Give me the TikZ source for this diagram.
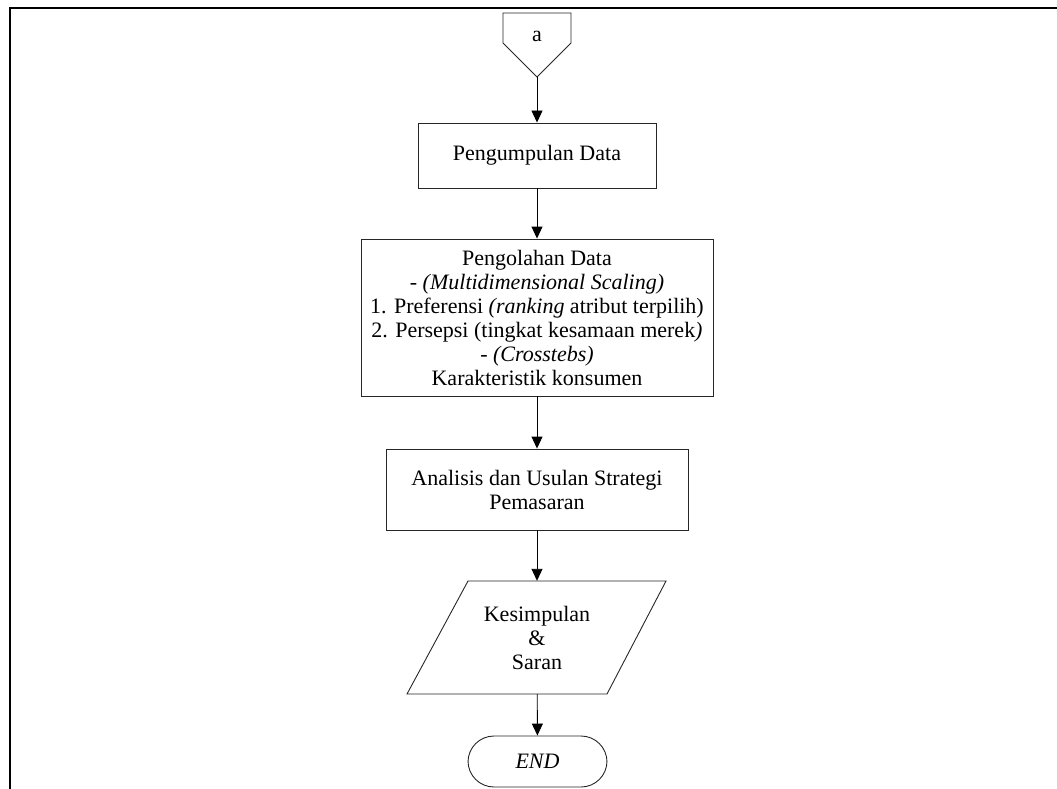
\documentclass[tikz,border=0pt]{standalone}
\usepackage{fontspec}
\setmainfont{Liberation Serif}
\usetikzlibrary{arrows.meta,calc}
\begin{document}
\begin{tikzpicture}[x=1pt,y=-1pt,
  every node/.style={font=\fontsize{22}{24}\selectfont, inner sep=0pt, align=center},
  procbox/.style={draw=black!85, line width=0.9pt, rectangle},
  conn/.style={line width=0.9pt, -{Triangle[length=12pt,width=11pt]}},
  frameline/.style={line width=2pt}]
\useasboundingbox (0,0) rectangle (1057,789);
% frame
\draw[frameline] (9.5,789) -- (9.5,8) -- (1057,8);
% off-page connector
\draw[line width=0.9pt, draw=black!85] (503,13) -- (571,13) -- (571,43) -- (537,77) -- (503,43) -- cycle;
\node (a) at (537,36) {a};
\coordinate (atip) at (537,77);
% process boxes
\node[procbox, minimum width=238pt, minimum height=65pt] (b1) at (537,155.5) {Pengumpulan Data};
\node[procbox, minimum width=352pt, minimum height=157pt] (b2) at (537,317.5)
  {Pengolahan Data\\
   - \textit{(Multidimensional Scaling)}\\
   1. Preferensi \textit{(ranking} atribut terpilih)\\
   2. Persepsi (tingkat kesamaan merek\textit{)}\\
   - \textit{(Crosstebs)}\\
   Karakteristik konsumen};
\node[procbox, minimum width=302pt, minimum height=81pt] (b3) at (537,489.5)
  {Analisis dan Usulan Strategi\\Pemasaran};
% parallelogram
\node[minimum width=140pt, minimum height=113pt] (kes) at (537,637.5)
  {\fontsize{22}{25.5}\selectfont Kesimpulan\\\&\\Saran};
\draw[line width=0.9pt, draw=black!85]
  ($(kes.center)+(-69,-56.5)$) -- ($(kes.center)+(129,-56.5)$) --
  ($(kes.center)+(70,56.5)$) -- ($(kes.center)+(-130,56.5)$) -- cycle;
% terminator
\node[procbox, rounded corners=26pt, minimum width=139pt, minimum height=51pt] (end) at (537.5,761.5) {\textit{END}};
% connectors
\draw[conn] (atip) -- (b1);
\draw[conn] (b1) -- (b2);
\draw[conn] (b2) -- (b3);
\draw[conn] (b3) -- (kes);
\draw[conn] (kes) -- (end);
\end{tikzpicture}
\end{document}
